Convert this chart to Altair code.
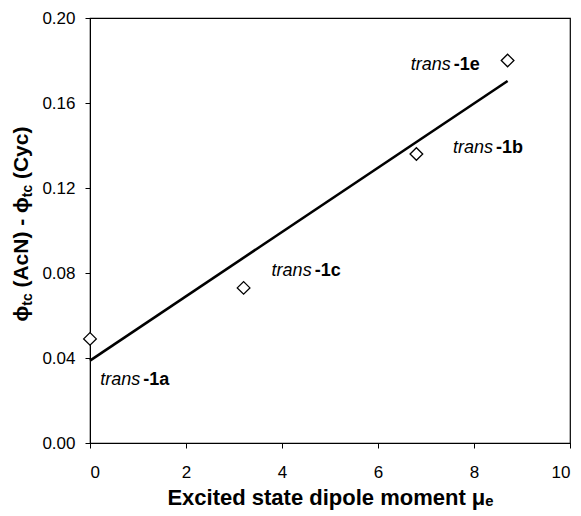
import altair as alt
import pandas as pd

# ---- data ----
compound = ["1a", "1c", "1b", "1e"]
dipole = [0.0, 3.2, 6.8, 8.7]
delta_phi = [0.049, 0.073, 0.136, 0.180]
label_x = [1.11, 4.68, 8.46, 7.58]
label_y = [0.0296, 0.081, 0.139, 0.178]
label_prefix = ["trans", "trans", "trans", "trans"]
label_suffix = ["-1a", "-1c", "-1b", "-1e"]

x_ticks = [0, 2, 4, 6, 8, 10]
y_ticks = [0.00, 0.04, 0.08, 0.12, 0.16, 0.20]

x_title = "Excited state dipole moment μₑ"
y_title_pieces = ["ϕ", "tc", "(AcN) - ϕ", "tc", "(Cyc)"]
y_title_is_sub = [False, True, False, True, False]

FONT = "Liberation Sans"
W, H = 480, 425

pts = pd.DataFrame({"compound": compound, "mu": dipole, "dphi": delta_phi})
labels = pd.DataFrame({"lx": label_x, "ly": label_y,
                       "prefix": label_prefix, "suffix": label_suffix})

xscale = alt.Scale(domain=[0, 10], nice=False, zero=False)
yscale = alt.Scale(domain=[0, 0.2], nice=False, zero=False)

xaxis = alt.Axis(values=x_ticks, format="d", title=x_title, labelPadding=16,
                 titlePadding=7, titleFontSize=22, titleFontWeight="bold")
yaxis = alt.Axis(values=y_ticks, format=".2f", title=None, labelPadding=10)

fit = alt.Chart(pts).transform_regression("mu", "dphi").mark_line(
    color="black", strokeWidth=2.6
).encode(
    x=alt.X("mu:Q", scale=xscale, axis=xaxis),
    y=alt.Y("dphi:Q", scale=yscale, axis=yaxis),
)

points = alt.Chart(pts).mark_point(
    shape="diamond", size=160, filled=True, fill="white", stroke="black",
    strokeWidth=1.3, opacity=1
).encode(
    x=alt.X("mu:Q", scale=xscale),
    y=alt.Y("dphi:Q", scale=yscale),
)

lab_pre = alt.Chart(labels).mark_text(
    align="right", baseline="middle", dx=-3, font=FONT, fontSize=18,
    fontStyle="italic", color="black"
).encode(x=alt.X("lx:Q", scale=xscale), y=alt.Y("ly:Q", scale=yscale), text="prefix:N")

lab_suf = alt.Chart(labels).mark_text(
    align="left", baseline="middle", font=FONT, fontSize=18,
    fontWeight="bold", color="black"
).encode(x=alt.X("lx:Q", scale=xscale), y=alt.Y("ly:Q", scale=yscale), text="suffix:N")

# rotated y-axis title, built from pieces so that "tc" can be a subscript
main_size, sub_size = 21, 14
k = main_size / 20.0
est_w = {"ϕ": 15.0 * k, "tc": 11.6 * k, "(AcN) - ϕ": 86.1 * k, "(Cyc)": 50.0 * k}
space_w = 5.6 * k
gaps = [0, space_w, 0, space_w, 0]
total = sum(est_w[p] for p in y_title_pieces) + sum(gaps)
center_y = 206
pos = center_y + total / 2
title_layers = []
for piece, is_sub, gap in zip(y_title_pieces, y_title_is_sub, gaps):
    title_layers.append(
        alt.Chart(pd.DataFrame({"t": [piece]})).mark_text(
            angle=270, align="left", baseline="alphabetic", font=FONT,
            fontSize=sub_size if is_sub else main_size, fontWeight="bold",
            color="black"
        ).encode(
            text="t:N",
            x=alt.value(-58 if is_sub else -62),
            y=alt.value(pos),
        )
    )
    pos -= est_w[piece] + gap

chart = alt.layer(fit, points, lab_pre, lab_suf, *title_layers).properties(
    width=W, height=H,
    autosize=alt.AutoSizeParams(type="none"),
    padding={"left": 82, "top": 10, "right": 3, "bottom": 70},
).configure_view(
    stroke="black", strokeWidth=1.2
).configure_axis(
    grid=False, domainColor="black", domainWidth=1, tickColor="black",
    tickSize=5, tickWidth=1, labelColor="black", labelFont=FONT,
    labelFontSize=17, titleFont=FONT, titleColor="black"
)

chart.save("out.html", embed_options={"renderer": "svg", "actions": False})
